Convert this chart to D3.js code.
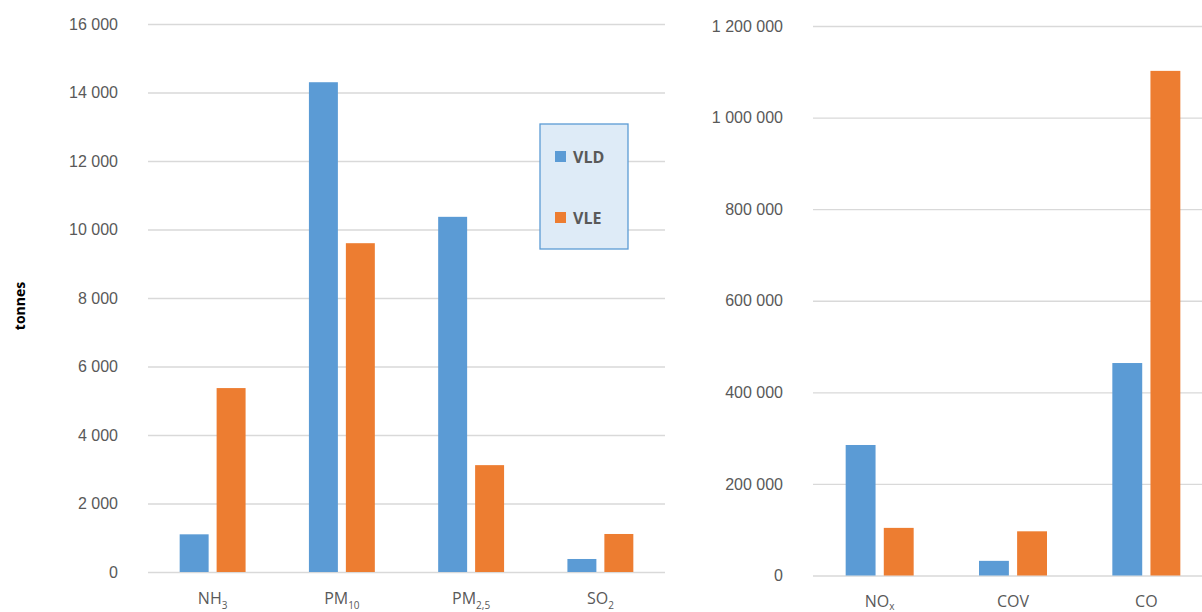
<!DOCTYPE html>
<html>
<head>
<meta charset="utf-8">
<script src="https://cdn.jsdelivr.net/npm/d3@7"></script>
<style>
  body { margin: 0; background: #fff; }
  svg { display: block; font-family: "Open Sans", "Noto Sans", sans-serif; }
  .tick text { fill: #595959; font-size: 16px; }
  .tick line { stroke: #d9d9d9; stroke-width: 1.3; }
  .cat { fill: #595959; font-size: 16px; }
</style>
</head>
<body>
<div id="chart"></div>
<script>
// data
const seriesKeys = ['VLD', 'VLE'];
const leftCategories = [
  { name: 'NH', sub: '3' },
  { name: 'PM', sub: '10' },
  { name: 'PM', sub: '2,5' },
  { name: 'SO', sub: '2' }
];
const leftVLD = [1100, 14300, 10370, 380];
const leftVLE = [5370, 9600, 3120, 1110];
const leftTicks = [0, 2000, 4000, 6000, 8000, 10000, 12000, 14000, 16000];

const rightCategories = [
  { name: 'NO', sub: 'x' },
  { name: 'COV', sub: '' },
  { name: 'CO', sub: '' }
];
const rightVLD = [285000, 32000, 464000];
const rightVLE = [104000, 96500, 1102000];
const rightTicks = [0, 200000, 400000, 600000, 800000, 1000000, 1200000];

const colors = { VLD: '#5b9bd5', VLE: '#ed7d31' };

const W = 1202, H = 612;
const fr = d3.formatLocale({ decimal: ',', thousands: ' ', grouping: [3], currency: ['', ''] });
const fmt = fr.format(',d');

const svg = d3.select('#chart').append('svg')
  .attr('width', W).attr('height', H);

function drawPanel(opts) {
  const { cats, vld, vle, ticks, x0r, yr, labelY, subDy } = opts;
  const names = cats.map((c, i) => i);

  const x0 = d3.scaleBand().domain(names).range(x0r)
    .paddingInner(0.49).paddingOuter(0.245);
  const x1 = d3.scaleBand().domain(seriesKeys).range([0, x0.bandwidth()])
    .paddingInner(0.216);
  const y = d3.scaleLinear().domain([0, ticks[ticks.length - 1]]).range(yr);

  const g = svg.append('g');

  // gridlines + tick labels
  const yAxis = g.append('g')
    .attr('transform', `translate(${x0r[0]},0)`)
    .call(d3.axisLeft(y).tickValues(ticks).tickFormat(fmt)
      .tickSize(-(x0r[1] - x0r[0])).tickPadding(30));
  yAxis.select('.domain').remove();

  const rows = names.map(i => ({ i, VLD: vld[i], VLE: vle[i] }));

  g.append('g').selectAll('g')
    .data(rows)
    .join('g')
    .attr('transform', d => `translate(${x0(d.i)},0)`)
    .selectAll('rect')
    .data(d => seriesKeys.map(k => ({ k, v: d[k] })))
    .join('rect')
    .attr('x', d => x1(d.k))
    .attr('width', x1.bandwidth())
    .attr('y', d => y(d.v))
    .attr('height', d => y(0) - y(d.v))
    .attr('fill', d => colors[d.k]);

  const lab = g.append('g').selectAll('text')
    .data(cats)
    .join('text')
    .attr('class', 'cat')
    .attr('text-anchor', 'middle')
    .attr('x', (d, i) => x0(i) + x0.bandwidth() / 2)
    .attr('y', labelY);
  lab.append('tspan').text(d => d.name);
  lab.filter(d => d.sub).append('tspan')
    .attr('dy', subDy).attr('font-size', 10).text(d => d.sub);
}

drawPanel({
  cats: leftCategories, vld: leftVLD, vle: leftVLE, ticks: leftTicks,
  x0r: [148, 665], yr: [572, 24], labelY: 604, subDy: 5
});

drawPanel({
  cats: rightCategories, vld: rightVLD, vle: rightVLE, ticks: rightTicks,
  x0r: [813, 1213], yr: [575.5, 26], labelY: 607, subDy: 3
});

// y title
svg.append('text')
  .attr('transform', 'translate(25,306) rotate(-90)')
  .attr('text-anchor', 'middle')
  .attr('font-size', 14)
  .attr('font-weight', 'bold')
  .attr('fill', '#000')
  .text('tonnes');

// legend
const leg = svg.append('g').attr('transform', 'translate(540,124)');
leg.append('rect')
  .attr('width', 88).attr('height', 125)
  .attr('fill', '#deebf7').attr('stroke', '#5b9bd5').attr('stroke-width', 1.3);
const li = leg.selectAll('g.item')
  .data(seriesKeys)
  .join('g')
  .attr('class', 'item')
  .attr('transform', (d, i) => `translate(15,${27 + i * 61})`);
li.append('rect')
  .attr('width', 11).attr('height', 11)
  .attr('fill', d => colors[d]);
li.append('text')
  .attr('x', 18).attr('y', 11.5)
  .attr('font-size', 16).attr('font-weight', 'bold')
  .attr('fill', '#595959')
  .text(d => d);
</script>
</body>
</html>
